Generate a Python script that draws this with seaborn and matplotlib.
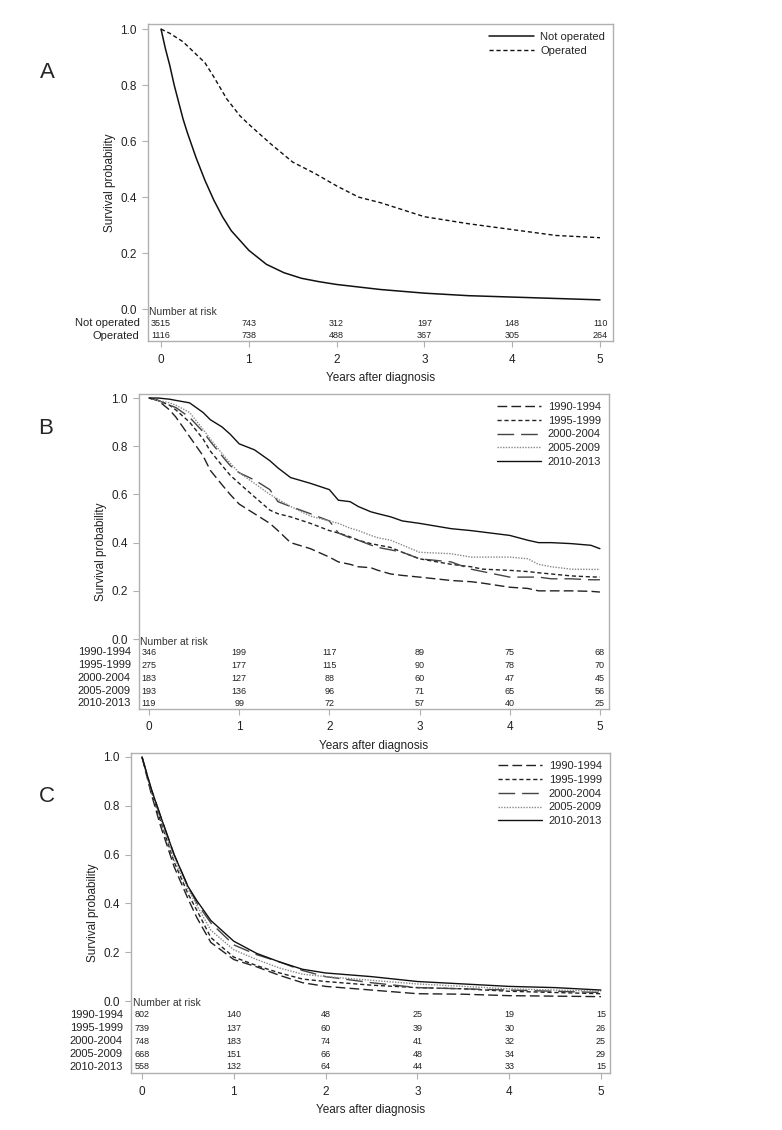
import matplotlib
matplotlib.use("Agg")
import matplotlib.pyplot as plt
import seaborn as sns
import numpy as np

sns.set_theme(style="white")
plt.rcParams['font.family'] = ['Liberation Sans Narrow', 'Liberation Sans', 'DejaVu Sans']

# ---------------- Data ----------------
# Panel A
a_t_not = [0, 0.05, 0.1, 0.15, 0.2, 0.25, 0.3, 0.4, 0.5, 0.6, 0.7, 0.8, 0.9, 1.0,
           1.2, 1.4, 1.6, 1.8, 2.0, 2.5, 3.0, 3.5, 4.0, 4.5, 5.0]
a_not_operated = [1.0, 0.93, 0.87, 0.80, 0.74, 0.68, 0.63, 0.54, 0.46, 0.39, 0.33, 0.28,
                  0.245, 0.21, 0.16, 0.13, 0.11, 0.098, 0.088, 0.07, 0.057, 0.048, 0.043,
                  0.038, 0.033]
a_t_op = [0, 0.1, 0.25, 0.4, 0.5, 0.6, 0.75, 0.9, 1.0, 1.25, 1.5, 1.75, 2.0, 2.25, 2.5,
          2.75, 3.0, 3.5, 4.0, 4.5, 5.0]
a_operated = [1.0, 0.985, 0.955, 0.91, 0.88, 0.83, 0.75, 0.69, 0.66, 0.59, 0.525, 0.485,
              0.44, 0.40, 0.38, 0.355, 0.33, 0.305, 0.284, 0.263, 0.255]
a_groups = ["Not operated", "Operated"]
a_risk = [[3515, 743, 312, 197, 148, 110],
          [1116, 738, 488, 367, 305, 264]]

# Panel B
b_t = [0, 0.1, 0.23, 0.3, 0.45, 0.6, 0.68, 0.81, 0.9, 1.0, 1.17, 1.34, 1.43, 1.57, 1.79,
       2.0, 2.1, 2.23, 2.32, 2.46, 2.54, 2.68, 2.81, 3.0, 3.35, 3.57, 3.7, 4.0, 4.2, 4.32,
       4.46, 4.68, 4.9, 5.0]
b_1990 = [1.0, 0.99, 0.95, 0.92, 0.84, 0.76, 0.70, 0.64, 0.60, 0.56, 0.52, 0.48, 0.45,
          0.40, 0.375, 0.34, 0.32, 0.31, 0.30, 0.296, 0.285, 0.27, 0.264, 0.257, 0.243,
          0.238, 0.232, 0.215, 0.21, 0.20, 0.20, 0.20, 0.198, 0.195]
b_1995 = [1.0, 0.99, 0.97, 0.95, 0.90, 0.83, 0.78, 0.72, 0.68, 0.646, 0.59, 0.535, 0.52,
          0.507, 0.48, 0.45, 0.44, 0.424, 0.41, 0.396, 0.39, 0.38, 0.36, 0.333, 0.31,
          0.30, 0.29, 0.285, 0.28, 0.275, 0.27, 0.262, 0.258, 0.257]
b_2000 = [1.0, 0.99, 0.97, 0.96, 0.92, 0.86, 0.82, 0.76, 0.72, 0.69, 0.66, 0.62, 0.57,
          0.55, 0.52, 0.49, 0.44, 0.42, 0.41, 0.39, 0.38, 0.37, 0.36, 0.333, 0.32, 0.29,
          0.28, 0.257, 0.257, 0.257, 0.25, 0.25, 0.246, 0.246]
b_2005 = [1.0, 0.99, 0.98, 0.97, 0.94, 0.87, 0.83, 0.77, 0.73, 0.69, 0.646, 0.60, 0.58,
          0.55, 0.51, 0.49, 0.48, 0.46, 0.45, 0.43, 0.42, 0.41, 0.39, 0.36, 0.354, 0.34,
          0.34, 0.34, 0.333, 0.31, 0.30, 0.29, 0.289, 0.289]
b_2010 = [1.0, 1.0, 0.995, 0.99, 0.98, 0.94, 0.91, 0.88, 0.85, 0.81, 0.785, 0.74, 0.71,
          0.67, 0.646, 0.62, 0.576, 0.57, 0.55, 0.528, 0.52, 0.507, 0.49, 0.48, 0.458,
          0.45, 0.444, 0.43, 0.41, 0.40, 0.40, 0.396, 0.389, 0.375]
b_groups = ["1990-1994", "1995-1999", "2000-2004", "2005-2009", "2010-2013"]
b_risk = [[346, 199, 117, 89, 75, 68],
          [275, 177, 115, 90, 78, 70],
          [183, 127, 88, 60, 47, 45],
          [193, 136, 96, 71, 65, 56],
          [119, 99, 72, 57, 40, 25]]

# Panel C
c_t = [0, 0.1, 0.2, 0.35, 0.5, 0.6, 0.75, 1.0, 1.25, 1.5, 1.75, 2.0, 2.5, 3.0, 3.5, 4.0,
       4.5, 5.0]
c_1990 = [1.0, 0.85, 0.72, 0.55, 0.42, 0.34, 0.24, 0.17, 0.14, 0.105, 0.075, 0.06, 0.045,
          0.03, 0.028, 0.022, 0.02, 0.018]
c_1995 = [1.0, 0.86, 0.74, 0.57, 0.44, 0.37, 0.26, 0.18, 0.145, 0.115, 0.09, 0.08, 0.065,
          0.055, 0.05, 0.04, 0.035, 0.03]
c_2000 = [1.0, 0.87, 0.76, 0.60, 0.47, 0.40, 0.32, 0.23, 0.19, 0.16, 0.125, 0.10, 0.075,
          0.055, 0.05, 0.045, 0.04, 0.035]
c_2005 = [1.0, 0.86, 0.75, 0.58, 0.46, 0.39, 0.29, 0.21, 0.17, 0.135, 0.11, 0.10, 0.085,
          0.07, 0.06, 0.05, 0.045, 0.04]
c_2010 = [1.0, 0.87, 0.76, 0.60, 0.47, 0.41, 0.33, 0.245, 0.195, 0.16, 0.13, 0.115, 0.10,
          0.08, 0.07, 0.06, 0.055, 0.045]
c_groups = ["1990-1994", "1995-1999", "2000-2004", "2005-2009", "2010-2013"]
c_risk = [[802, 140, 48, 25, 19, 15],
          [739, 137, 60, 39, 30, 26],
          [748, 183, 74, 41, 32, 25],
          [668, 151, 66, 48, 34, 29],
          [558, 132, 64, 44, 33, 15]]

risk_times = [0, 1, 2, 3, 4, 5]
y_ticks = [0.0, 0.2, 0.4, 0.6, 0.8, 1.0]
x_ticks = [0, 1, 2, 3, 4, 5]

# ---------------- Styles ----------------
period_styles = [
    dict(color="#222222", linestyle=(0, (7, 3)), linewidth=1.0),
    dict(color="#222222", linestyle=(0, (3, 2)), linewidth=1.0),
    dict(color="#444444", linestyle=(0, (12, 5)), linewidth=1.0),
    dict(color="#888888", linestyle=(0, (1, 1)), linewidth=1.0),
    dict(color="#111111", linestyle="-", linewidth=1.0),
]
frame_color = "#b0b0b0"

fig = plt.figure(figsize=(7.82, 11.3), dpi=100)

def style_axes(ax, xlim, ylim):
    ax.set_xlim(*xlim)
    ax.set_ylim(*ylim)
    ax.set_xticks(x_ticks)
    ax.set_yticks(y_ticks)
    ax.set_yticklabels([f"{v:.1f}" for v in y_ticks])
    for s in ax.spines.values():
        s.set_color(frame_color)
        s.set_linewidth(1.0)
    ax.tick_params(axis="both", direction="out", length=4, width=0.8, color=frame_color,
                   labelsize=8.5, labelcolor="#222222", pad=4, bottom=True, left=True)
    ax.tick_params(axis="x", pad=5)
    ax.set_xlabel("Years after diagnosis", fontsize=8.5, color="#222222", labelpad=5)
    ax.set_ylabel("Survival probability", fontsize=8.5, color="#222222", labelpad=3)
    ax.grid(False)

def risk_table(ax, groups, risk, nar_y, row_ys, xleft):
    ax.text(xleft, nar_y, "Number at risk", fontsize=7.5, color="#333333",
            ha="left", va="center")
    for g, row, ry in zip(groups, risk, row_ys):
        for t, n in zip(risk_times, row):
            ax.text(t, ry, str(n), fontsize=6.5, color="#222222", ha="center", va="center")
        ax.annotate(g, xy=(0, ry), xycoords=("axes fraction", "data"),
                    xytext=(-6, 0), textcoords="offset points",
                    ha="right", va="center", fontsize=8, color="#222222")

def add_legend(ax):
    ax.legend(loc="upper right", frameon=False, fontsize=8, handlelength=4.0,
              labelspacing=0.35, borderaxespad=0.3, handletextpad=0.6)

# ---------------- Panel A ----------------
axA = fig.add_axes([0.1893, 0.6982, 0.5946, 0.2805])
sns.lineplot(x=a_t_not, y=a_not_operated, ax=axA, color="#111111", linewidth=1.1,
             label=a_groups[0])
sns.lineplot(x=a_t_op, y=a_operated, ax=axA, color="#111111", linewidth=1.0,
             linestyle=(0, (3, 2)), label=a_groups[1])
style_axes(axA, (-0.148, 5.148), (-0.114, 1.018))
add_legend(axA)
risk_table(axA, a_groups, a_risk, -0.011, [-0.05, -0.096], -0.135)
fig.text(0.06, 1 - 72 / 1130, "A", fontsize=16, ha="center", va="center",
         family=["Liberation Sans", "DejaVu Sans"])

# ---------------- Panel B ----------------
axB = fig.add_axes([0.1777, 0.3726, 0.6010, 0.2788])
for g, vals, st in zip(b_groups, [b_1990, b_1995, b_2000, b_2005, b_2010], period_styles):
    sns.lineplot(x=b_t, y=vals, ax=axB, label=g, **st)
style_axes(axB, (-0.111, 5.1), (-0.29, 1.017))
add_legend(axB)
risk_table(axB, b_groups, b_risk, -0.012, [-0.054, -0.108, -0.162, -0.216, -0.266], -0.095)
fig.text(0.058, 1 - 428 / 1130, "B", fontsize=16, ha="center", va="center",
         family=["Liberation Sans", "DejaVu Sans"])

# ---------------- Panel C ----------------
axC = fig.add_axes([0.1675, 0.0504, 0.6125, 0.2832])
for g, vals, st in zip(c_groups, [c_1990, c_1995, c_2000, c_2005, c_2010], period_styles):
    sns.lineplot(x=c_t, y=vals, ax=axC, label=g, **st)
style_axes(axC, (-0.12, 5.098), (-0.295, 1.016))
add_legend(axC)
risk_table(axC, c_groups, c_risk, -0.008, [-0.057, -0.111, -0.164, -0.217, -0.270], -0.1)
fig.text(0.06, 1 - 797 / 1130, "C", fontsize=16, ha="center", va="center",
         family=["Liberation Sans", "DejaVu Sans"])

fig.savefig("out.png", dpi=100, facecolor="white")
